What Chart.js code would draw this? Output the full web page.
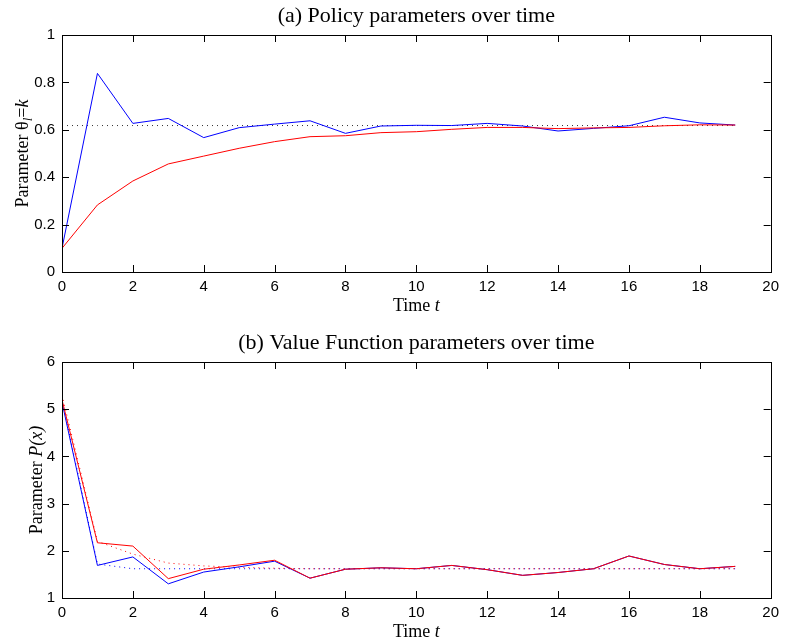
<!DOCTYPE html>
<html>
<head>
<meta charset="utf-8">
<script src="https://cdn.jsdelivr.net/npm/chart.js@4/dist/chart.umd.min.js"></script>
<style>
  html, body { margin: 0; padding: 0; background: #fff; }
  .wrap { position: absolute; left: 0; width: 785px; }
  #top { top: 0; height: 320px; }
  #bottom { top: 320px; height: 321px; }
</style>
</head>
<body>
<div class="wrap" id="top"><canvas id="policy" width="785" height="320"></canvas></div>
<div class="wrap" id="bottom"><canvas id="value" width="785" height="321"></canvas></div>
<script>
// time steps
const time = [0, 1, 2, 3, 4, 5, 6, 7, 8, 9, 10, 11, 12, 13, 14, 15, 16, 17, 18, 19];

// (a) policy parameter
const policyBlue = [0.10, 0.838, 0.627, 0.648, 0.567, 0.609, 0.624, 0.638, 0.585, 0.616,
                    0.619, 0.618, 0.627, 0.616, 0.595, 0.606, 0.617, 0.653, 0.629, 0.620];
const policyRed  = [0.10, 0.283, 0.384, 0.456, 0.489, 0.522, 0.550, 0.571, 0.575, 0.588,
                    0.592, 0.602, 0.610, 0.610, 0.605, 0.608, 0.610, 0.617, 0.621, 0.620];
const policyOpt  = [0.618, 0.618, 0.618, 0.618, 0.618, 0.618, 0.618, 0.618, 0.618, 0.618,
                    0.618, 0.618, 0.618, 0.618, 0.618, 0.618, 0.618, 0.618, 0.618, 0.618];

// (b) value function parameter
const valueBlue = [5.15, 1.69, 1.87, 1.30, 1.55, 1.66, 1.78, 1.42, 1.61, 1.64,
                   1.62, 1.69, 1.60, 1.48, 1.54, 1.62, 1.89, 1.71, 1.62, 1.67];
const valueRed  = [5.20, 2.17, 2.10, 1.41, 1.61, 1.70, 1.80, 1.42, 1.61, 1.64,
                   1.62, 1.69, 1.60, 1.48, 1.54, 1.62, 1.89, 1.71, 1.62, 1.67];
const valueBlueRef = [5.20, 1.72, 1.62, 1.62, 1.62, 1.62, 1.62, 1.62, 1.62, 1.62,
                      1.62, 1.62, 1.62, 1.62, 1.62, 1.62, 1.62, 1.62, 1.62, 1.62];
const valueRedRef  = [5.30, 2.20, 1.93, 1.74, 1.68, 1.65, 1.63, 1.62, 1.62, 1.62,
                      1.62, 1.62, 1.62, 1.62, 1.62, 1.62, 1.62, 1.62, 1.62, 1.62];

// axis ticks
const xTicks = [0, 2, 4, 6, 8, 10, 12, 14, 16, 18, 20];
const policyTicks = [0, 0.2, 0.4, 0.6, 0.8, 1];
const valueTicks = [1, 2, 3, 4, 5, 6];

const SERIF = '"Liberation Serif", "Times New Roman", serif';
const SANS = '"Liberation Sans", Arial, sans-serif';

function pts(arr) {
    return time.map((t, i) => ({ x: t, y: arr[i] }));
}

// text made of several pieces with different fonts (italics, subscripts)
function drawRuns(ctx, runs, x, y) {
    let total = 0;
    runs.forEach(r => { ctx.font = r.font; r.w = ctx.measureText(r.text).width; total += r.w; });
    let cx = x - total / 2;
    ctx.textAlign = 'left';
    ctx.textBaseline = 'alphabetic';
    runs.forEach(r => {
        ctx.font = r.font;
        ctx.fillText(r.text, cx, y + (r.dy || 0));
        cx += r.w;
    });
}

// box, inward tick marks and text labels, matlab style
const frame = {
    id: 'frame',
    afterDraw(chart, args, opts) {
        const ctx = chart.ctx;
        const a = chart.chartArea;
        const xs = chart.scales.x, ys = chart.scales.y;
        ctx.save();
        ctx.strokeStyle = '#000';
        ctx.lineWidth = 1;
        ctx.strokeRect(Math.round(a.left) + 0.5, Math.round(a.top) + 0.5,
                       Math.round(a.right - a.left), Math.round(a.bottom - a.top));
        ctx.beginPath();
        xs.ticks.forEach(t => {
            const px = Math.round(xs.getPixelForValue(t.value)) + 0.5;
            ctx.moveTo(px, a.bottom); ctx.lineTo(px, a.bottom - 7);
            ctx.moveTo(px, a.top); ctx.lineTo(px, a.top + 7);
        });
        ys.ticks.forEach(t => {
            const py = Math.round(ys.getPixelForValue(t.value)) + 0.5;
            ctx.moveTo(a.left, py); ctx.lineTo(a.left + 7, py);
            ctx.moveTo(a.right, py); ctx.lineTo(a.right - 7, py);
        });
        ctx.stroke();

        ctx.fillStyle = '#000';
        const cx = (a.left + a.right) / 2;
        ctx.font = '22px ' + SERIF;
        ctx.textAlign = 'center';
        ctx.textBaseline = 'alphabetic';
        ctx.fillText(opts.title, cx, a.top - 13);

        drawRuns(ctx, [
            { text: 'Time ', font: '18px ' + SERIF },
            { text: 't', font: 'italic 18px ' + SERIF }
        ], cx, a.bottom + 38.5);

        ctx.translate(opts.ylabelX, (a.top + a.bottom) / 2);
        ctx.rotate(-Math.PI / 2);
        drawRuns(ctx, opts.ylabel, 0, 0);
        ctx.restore();
    }
};

function makeChart(id, sets, yMin, yMax, yStep, yTickList, pad, xHeight, plotOpts) {
    return new Chart(document.getElementById(id), {
        type: 'line',
        data: {
            datasets: sets.map(s => ({
                data: pts(s.values),
                borderColor: s.color,
                borderWidth: 1,
                borderDash: s.dash || [],
                pointRadius: 0,
                tension: 0,
                fill: false,
                order: s.order
            }))
        },
        options: {
            responsive: false,
            animation: false,
            events: [],
            layout: { padding: pad },
            plugins: {
                legend: { display: false },
                tooltip: { enabled: false },
                frame: plotOpts
            },
            scales: {
                x: {
                    type: 'linear',
                    min: 0, max: 20,
                    grid: { display: false, drawTicks: false },
                    border: { display: false },
                    afterFit: s => { s.height = xHeight; },
                    afterBuildTicks: s => { s.ticks = xTicks.map(v => ({ value: v })); },
                    ticks: {
                        stepSize: 2, padding: 6, color: '#000', maxRotation: 0, autoSkip: false,
                        font: { family: SANS, size: 15 },
                        callback: v => String(v)
                    }
                },
                y: {
                    type: 'linear',
                    min: yMin, max: yMax,
                    grid: { display: false, drawTicks: false },
                    border: { display: false },
                    afterFit: s => { s.width = 62; },
                    afterBuildTicks: s => { s.ticks = yTickList.map(v => ({ value: v })); },
                    ticks: {
                        stepSize: yStep, padding: 7, color: '#000',
                        font: { family: SANS, size: 15 },
                        callback: v => String(Math.round(v * 10) / 10)
                    }
                }
            }
        },
        plugins: [frame]
    });
}

makeChart('policy', [
    { values: policyOpt, color: '#333', dash: [1, 4], order: 3 },
    { values: policyBlue, color: '#0000ff', order: 2 },
    { values: policyRed, color: '#ff0000', order: 1 }
], 0, 1, 0.2, policyTicks, { top: 35, right: 9, left: 0, bottom: 0 }, 48, {
    title: '(a) Policy parameters over time',
    ylabelX: 28,
    ylabel: [
        { text: 'Parameter θ', font: '18px ' + SERIF },
        { text: 'l', font: 'italic 13px ' + SERIF, dy: 4 },
        { text: '=', font: '18px ' + SERIF },
        { text: 'k', font: 'italic 18px ' + SERIF }
    ]
});

makeChart('value', [
    { values: valueBlueRef, color: '#0000ff', dash: [1, 4], order: 4 },
    { values: valueRedRef, color: '#ff0000', dash: [1, 4], order: 3 },
    { values: valueBlue, color: '#0000ff', order: 2 },
    { values: valueRed, color: '#ff0000', order: 1 }
], 1, 6, 1, valueTicks, { top: 42, right: 9, left: 0, bottom: 0 }, 43, {
    title: '(b) Value Function parameters over time',
    ylabelX: 42,
    ylabel: [
        { text: 'Parameter ', font: '18px ' + SERIF },
        { text: 'P(x)', font: 'italic 18px ' + SERIF }
    ]
});
</script>
</body>
</html>
